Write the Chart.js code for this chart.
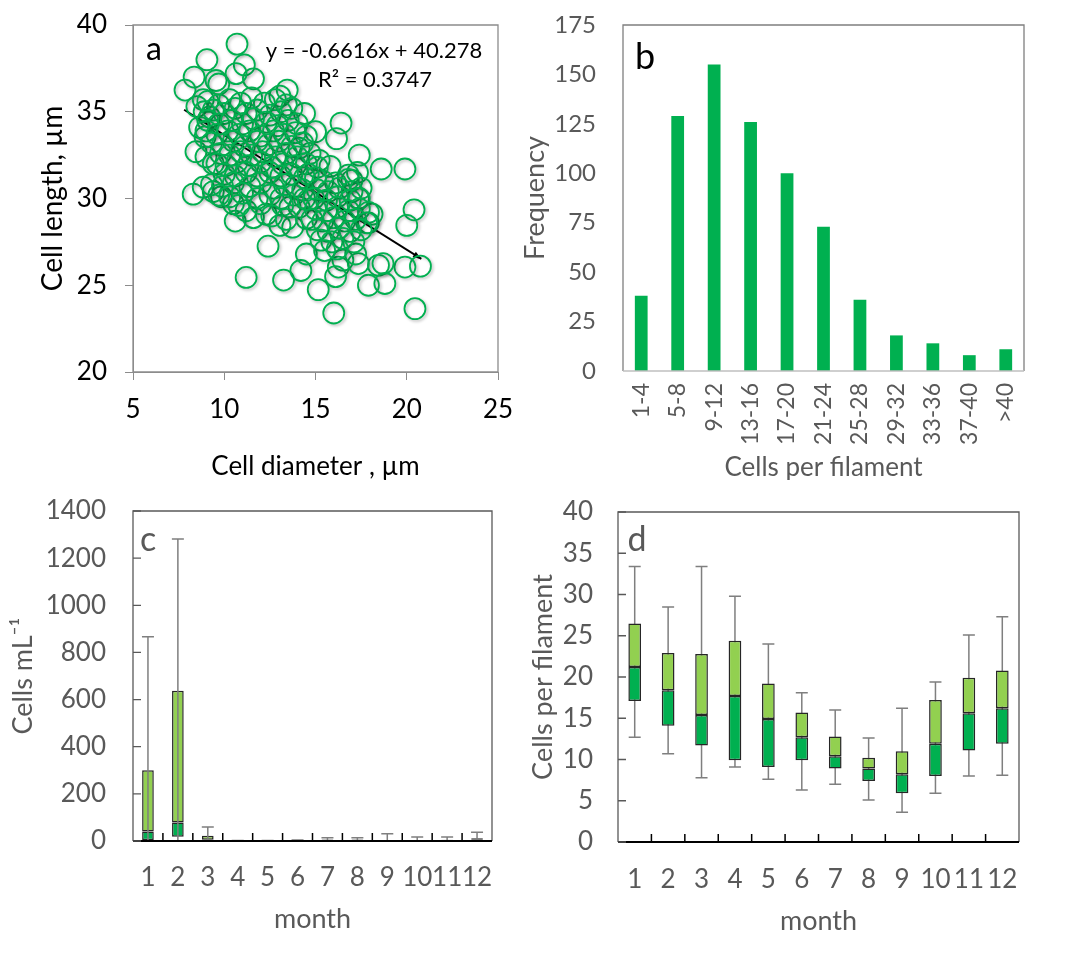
<!DOCTYPE html>
<html>
<head>
<meta charset="utf-8">
<script src="https://cdn.jsdelivr.net/npm/chart.js@4.4.0/dist/chart.umd.min.js"></script>
<style>
  body { margin: 0; background: #fff; }
  #wrap { position: relative; width: 1075px; height: 955px; }
  canvas { position: absolute; }
</style>
</head>
<body>
<div id="wrap">
  <canvas id="chartA" width="520" height="480" style="left:0;top:0"></canvas>
  <canvas id="chartB" width="555" height="480" style="left:520px;top:0"></canvas>
  <canvas id="chartC" width="520" height="475" style="left:0;top:480px"></canvas>
  <canvas id="chartD" width="555" height="475" style="left:520px;top:480px"></canvas>
</div>
<script>
// ---- panel a: cell diameter vs cell length ----
const cellDiameter = [
  10.7, 9.05, 11.1, 8.35, 11.6, 9.55, 7.85, 9.7, 10.65, 13.45, 13.05, 14.4, 15.0, 16.4, 16.15, 17.4,
  18.6, 19.9, 17.3, 20.4, 20.0, 8.3, 8.45, 9.0, 12.4, 11.2, 13.25, 15.15, 14.2, 14.5, 16.0, 20.45,
  20.75, 19.9, 18.45, 18.7, 17.9, 18.8, 16.25, 16.5, 17.35, 17.2, 16.1, 17.9, 18.1, 17.35, 17.0,
  16.8, 15.8, 15.2, 14.7, 14.1, 8.5, 8.85, 9.2, 8.65, 8.95, 9.4, 8.85, 9.4, 9.85, 10.5, 10.6,
  11.2, 11.6, 12.3, 13.05, 13.75, 13.6, 14.1, 14.5,
  9.1, 9.7, 10.3, 10.9, 11.5, 12.2, 12.8, 13.4,
  8.9, 9.4, 10.0, 10.6, 11.2, 11.8, 12.5, 13.1, 13.7,
  9.1, 9.7, 10.4, 11.0, 11.6, 12.3, 12.9, 13.5, 14.0,
  9.0, 9.6, 10.2, 10.8, 11.4, 12.0, 12.7, 13.3, 13.9, 14.5,
  9.3, 9.9, 10.5, 11.1, 11.8, 12.4, 13.0, 13.7, 14.3,
  9.8, 10.3, 10.9, 11.5, 12.1, 12.8, 13.4, 14.0,
  9.6, 10.1, 10.7, 11.3, 12.0, 12.6, 13.2, 13.9, 14.5, 15.1,
  10.0, 10.6, 11.2, 11.8, 12.5, 13.1, 13.7, 14.4,
  9.3, 9.9, 10.5, 11.4, 12.0, 12.7, 13.3, 13.9,
  9.7, 10.3, 11.0, 11.8, 12.5, 13.1, 13.8, 14.4,
  10.8, 12.0, 13.2, 12.6, 13.4,
  15.4, 16.1, 16.8, 14.6, 15.0, 14.3, 14.6,
  15.1, 15.7, 16.3, 17.0, 17.5,
  14.9, 15.6, 16.2, 16.9, 17.4,
  15.0, 15.6, 16.2, 16.8, 17.4, 17.9,
  14.8, 15.4, 16.0, 16.6, 17.2, 17.8,
  15.1, 15.7, 16.3, 16.9, 17.5,
  15.3, 15.9, 16.5, 17.1, 15.5, 16.2
];
const cellLength = [
  38.9, 38.0, 37.7, 37.0, 36.9, 36.8, 36.25, 36.6, 37.2, 36.25, 35.9, 34.9, 33.85, 34.35, 33.45, 32.5,
  31.7, 31.7, 31.5, 29.35, 28.45, 30.25, 32.7, 32.4, 27.25, 25.45, 25.3, 24.75, 25.85, 26.8, 23.4, 23.65,
  26.1, 26.05, 26.15, 26.25, 25.0, 25.1, 26.05, 26.45, 26.25, 26.8, 25.5, 28.6, 29.1, 30.0, 31.05,
  31.35, 31.85, 32.2, 32.6, 32.9, 35.3, 35.7, 34.7, 34.1, 33.55, 32.0, 30.65, 30.4, 30.1, 29.7, 28.7,
  29.3, 28.9, 29.1, 28.45, 28.35, 29.5, 29.5, 28.85,
  35.6, 35.4, 35.7, 35.5, 35.8, 35.5, 35.7, 35.4,
  35.0, 35.1, 34.9, 35.2, 34.9, 35.1, 34.8, 35.0, 35.2,
  34.5, 34.3, 34.5, 34.3, 34.6, 34.4, 34.2, 34.5, 34.3,
  33.9, 33.7, 33.9, 33.7, 33.9, 33.6, 33.9, 33.7, 33.8, 33.6,
  33.2, 33.1, 33.3, 33.0, 33.3, 33.1, 33.3, 33.0, 33.2,
  32.6, 32.5, 32.7, 32.5, 32.7, 32.4, 32.6, 32.4,
  32.0, 31.9, 32.1, 31.9, 32.1, 31.8, 32.0, 31.9, 32.0, 31.8,
  31.4, 31.3, 31.5, 31.3, 31.5, 31.3, 31.4, 31.2,
  30.8, 30.7, 30.9, 30.7, 30.9, 30.6, 30.8, 30.7,
  30.2, 30.1, 30.3, 30.0, 30.2, 30.0, 30.2, 30.0,
  29.6, 29.7, 29.6, 29.0, 28.8,
  31.0, 30.9, 31.1, 31.4, 31.2, 30.5, 29.9,
  30.5, 30.4, 30.6, 30.4, 30.6,
  30.0, 29.9, 30.1, 29.9, 30.0,
  29.4, 29.3, 29.5, 29.3, 29.4, 29.2,
  28.8, 28.7, 28.9, 28.7, 28.8, 28.6,
  28.2, 28.1, 28.3, 28.1, 28.2,
  27.6, 27.5, 27.7, 27.5, 27.0, 27.1
];
// linear trend y = -0.6616x + 40.278, drawn between the data extremes
const trendX = [7.8, 20.8];
const trendY = [35.12, 26.52];

// ---- panel b: frequency of cells per filament ----
const filamentBins = ['1-4', '5-8', '9-12', '13-16', '17-20', '21-24', '25-28', '29-32', '33-36', '37-40', '>40'];
const filamentFreq = [38, 129, 155, 126, 100, 73, 36, 18, 14, 8, 11];

// ---- panels c and d: monthly box plots ----
const months = ['1', '2', '3', '4', '5', '6', '7', '8', '9', '10', '11', '12'];

const densMin = [0, 0, 0, 0, 0, 0, 0, 0, 0, 0, 0, 0];
const densQ1  = [3, 18, 2, 0, 0, 0, 1, 1, 0, 0, 1, 2];
const densMed = [40, 79, 5, 0.5, 0.5, 1, 3, 3, 1, 2, 2, 5];
const densQ3  = [300, 637, 22, 1, 1, 2, 6, 6, 3, 4, 5, 12];
const densMax = [866, 1281, 59, 2, 2, 4, 14, 14, 31, 17, 17, 37];

const cpfMin = [12.7, 10.7, 7.8, 9.1, 7.6, 6.3, 7.0, 5.1, 3.6, 5.9, 8.0, 8.1];
const cpfQ1  = [17.1, 14.1, 11.7, 9.9, 9.1, 9.9, 8.9, 7.4, 5.9, 8.0, 11.1, 11.9];
const cpfMed = [21.2, 18.4, 15.4, 17.7, 14.9, 12.7, 10.4, 8.9, 8.2, 11.9, 15.6, 16.2];
const cpfQ3  = [26.5, 22.9, 22.8, 24.4, 19.2, 15.7, 12.8, 10.2, 11.0, 17.2, 19.9, 20.8];
const cpfMax = [33.4, 28.5, 33.4, 29.8, 24.0, 18.1, 16.0, 12.6, 16.2, 19.4, 25.1, 27.3];

const FONT = 'Lato';
const GREY = '#595959';
const DARK_GREEN = '#00b050';
const LIGHT_GREEN = '#92d050';

Chart.defaults.font.family = FONT;
Chart.defaults.animation = false;
Chart.defaults.plugins.legend.display = false;
Chart.defaults.plugins.tooltip.enabled = false;

// keep the plot areas at fixed spots (no label overhang padding)
function fixSize(size) {
  return scale => {
    if (scale.isHorizontal()) scale.height = size;
    else scale.width = size;
    scale.paddingTop = 0;
    scale.paddingBottom = 0;
    scale.paddingLeft = 0;
    scale.paddingRight = 0;
  };
}

const plain = v => String(v);

function framePlugin(color, bottomColor, bottomWidth) {
  return {
    id: 'frame',
    afterDraw(chart) {
      const { ctx, chartArea: a } = chart;
      ctx.save();
      ctx.strokeStyle = color;
      ctx.lineWidth = 1.3;
      ctx.beginPath();
      ctx.moveTo(a.left, a.bottom);
      ctx.lineTo(a.left, a.top);
      ctx.lineTo(a.right, a.top);
      ctx.lineTo(a.right, a.bottom);
      ctx.stroke();
      ctx.strokeStyle = bottomColor;
      ctx.lineWidth = bottomWidth;
      ctx.beginPath();
      ctx.moveTo(a.left, a.bottom);
      ctx.lineTo(a.right, a.bottom);
      ctx.stroke();
      ctx.restore();
    }
  };
}

function textPlugin(items) {
  return {
    id: 'texts',
    afterDraw(chart) {
      const ctx = chart.ctx;
      ctx.save();
      items.forEach(t => {
        ctx.font = t.font;
        ctx.fillStyle = t.color;
        ctx.textAlign = 'center';
        ctx.textBaseline = 'middle';
        ctx.fillText(t.text, t.x, t.y);
      });
      ctx.restore();
    }
  };
}

// soft shadow under the open circles, small arrow head on the trend line
const scatterLook = {
  id: 'scatterLook',
  beforeDatasetDraw(chart, args) {
    if (args.index !== 0) return;
    const ctx = chart.ctx;
    ctx.save();
    ctx.shadowColor = 'rgba(0,0,0,0.28)';
    ctx.shadowBlur = 3;
    ctx.shadowOffsetX = 1.5;
    ctx.shadowOffsetY = 1.5;
  },
  afterDatasetDraw(chart, args) {
    const ctx = chart.ctx;
    if (args.index === 0) { ctx.restore(); return; }
    const pts = chart.getDatasetMeta(1).data;
    const p0 = pts[0], p1 = pts[pts.length - 1];
    const ang = Math.atan2(p1.y - p0.y, p1.x - p0.x);
    ctx.save();
    ctx.fillStyle = '#000';
    ctx.beginPath();
    ctx.moveTo(p1.x, p1.y);
    ctx.lineTo(p1.x - 9 * Math.cos(ang - 0.35), p1.y - 9 * Math.sin(ang - 0.35));
    ctx.lineTo(p1.x - 9 * Math.cos(ang + 0.35), p1.y - 9 * Math.sin(ang + 0.35));
    ctx.closePath();
    ctx.fill();
    ctx.restore();
  }
};

// ---- a ----
new Chart(document.getElementById('chartA'), {
  type: 'scatter',
  data: {
    datasets: [
      {
        data: cellDiameter.map((d, i) => ({ x: d, y: cellLength[i] })),
        pointRadius: 10.5,
        pointBorderWidth: 1.8,
        pointBorderColor: DARK_GREEN,
        pointBackgroundColor: 'rgba(0,0,0,0)'
      },
      {
        type: 'line',
        data: trendX.map((d, i) => ({ x: d, y: trendY[i] })),
        borderColor: '#000',
        borderWidth: 1.8,
        pointRadius: 0,
        fill: false
      }
    ]
  },
  options: {
    responsive: false,
    layout: { padding: { top: 25, right: 22, left: 0, bottom: 0 } },
    scales: {
      x: {
        min: 5, max: 25,
        afterFit: fixSize(108),
        grid: { drawOnChartArea: false, drawTicks: true, tickLength: 8, color: '#8c8c8c' },
        border: { color: '#8c8c8c' },
        ticks: { stepSize: 5, color: '#000', font: { size: 26 }, padding: 14 },
        title: { display: true, text: 'Cell diameter , µm', color: '#000', font: { size: 26, lineHeight: 1 }, padding: { top: 0, bottom: 0 } }
      },
      y: {
        min: 20, max: 40,
        afterFit: fixSize(133),
        grid: { drawOnChartArea: false, drawTicks: true, tickLength: 8, color: '#8c8c8c' },
        border: { color: '#8c8c8c' },
        ticks: { stepSize: 5, color: '#000', font: { size: 26 }, padding: 18 },
        title: { display: true, text: 'Cell length, µm', color: '#000', font: { size: 28, lineHeight: 1 }, padding: { top: 39, bottom: 0 } }
      }
    }
  },
  plugins: [
    scatterLook,
    framePlugin('#8c8c8c', '#8c8c8c', 1.3),
    textPlugin([
      { text: 'a', x: 154, y: 50, font: '32px Lato', color: '#000' },
      { text: 'y = -0.6616x + 40.278', x: 374, y: 51, font: '22px Lato', color: '#000' },
      { text: 'R² = 0.3747', x: 375, y: 80, font: '22px Lato', color: '#000' }
    ])
  ]
});

// ---- b ----
new Chart(document.getElementById('chartB'), {
  type: 'bar',
  data: {
    labels: filamentBins,
    datasets: [{
      data: filamentFreq,
      backgroundColor: DARK_GREEN,
      barPercentage: 0.35,
      categoryPercentage: 1
    }]
  },
  options: {
    responsive: false,
    layout: { padding: { top: 25, right: 51, left: 0, bottom: 0 } },
    scales: {
      x: {
        afterFit: fixSize(109),
        grid: { display: false, drawTicks: false },
        border: { display: false },
        ticks: { color: GREY, font: { size: 23 }, padding: 12, minRotation: 90, maxRotation: 90, autoSkip: false },
        title: { display: true, text: 'Cells per filament', color: GREY, font: { size: 26, lineHeight: 1 }, padding: { top: 0, bottom: -1 } }
      },
      y: {
        min: 0, max: 175,
        afterFit: fixSize(103),
        grid: { display: false, drawTicks: false },
        border: { display: false },
        ticks: { stepSize: 25, color: GREY, font: { size: 24 }, padding: 27, callback: plain },
        title: { display: true, text: 'Frequency', color: GREY, font: { size: 27, lineHeight: 1 }, padding: { top: 2, bottom: 0 } }
      }
    }
  },
  plugins: [
    framePlugin('#7f7f7f', '#bfbfbf', 1.3),
    textPlugin([{ text: 'b', x: 125, y: 57, font: '36px Lato', color: '#000' }])
  ]
});

// ---- c, d: box plots built from floating bars ----
function boxPlugin(lo, hi, q1, q3, through) {
  return {
    id: 'whiskers',
    [through ? 'afterDatasetsDraw' : 'beforeDatasetsDraw'](chart) {
      const { ctx, scales: { x, y } } = chart;
      ctx.save();
      ctx.strokeStyle = '#7f7f7f';
      ctx.lineWidth = 1.5;
      ctx.beginPath();
      lo.forEach((v, i) => {
        const px = x.getPixelForValue(i);
        ctx.moveTo(px, y.getPixelForValue(lo[i]));
        ctx.lineTo(px, y.getPixelForValue(hi[i]));
        [lo[i], hi[i]].forEach(w => {
          const py = y.getPixelForValue(w);
          ctx.moveTo(px - 6, py);
          ctx.lineTo(px + 6, py);
        });
      });
      ctx.stroke();
      ctx.restore();
    }
  };
}

function innerTicks() {
  return {
    id: 'innerTicks',
    afterDraw(chart) {
      const { ctx, chartArea: a, scales: { x, y } } = chart;
      ctx.save();
      ctx.lineWidth = 1.3;
      ctx.strokeStyle = GREY;
      ctx.beginPath();
      y.ticks.forEach(t => {
        const py = y.getPixelForValue(t.value);
        ctx.moveTo(a.left, py);
        ctx.lineTo(a.left + 8, py);
      });
      ctx.stroke();
      ctx.strokeStyle = '#000';
      ctx.lineWidth = 1.5;
      ctx.beginPath();
      for (let i = 1; i < x.ticks.length; i++) {
        const px = x.getPixelForValue(i - 0.5);
        ctx.moveTo(px, a.bottom);
        ctx.lineTo(px, a.bottom - 8);
      }
      ctx.stroke();
      ctx.restore();
    }
  };
}

function boxChart(id, opts) {
  const boxStyle = {
    borderColor: '#262626',
    borderWidth: 1.5,
    borderSkipped: false,
    grouped: false,
    barPercentage: opts.barPct,
    categoryPercentage: 1
  };
  return new Chart(document.getElementById(id), {
    type: 'bar',
    data: {
      labels: months,
      datasets: [
        Object.assign({ data: opts.q1.map((v, i) => [v, opts.med[i]]), backgroundColor: DARK_GREEN }, boxStyle),
        Object.assign({ data: opts.med.map((v, i) => [v, opts.q3[i]]), backgroundColor: LIGHT_GREEN }, boxStyle)
      ]
    },
    options: {
      responsive: false,
      layout: { padding: opts.padding },
      scales: {
        x: {
          afterFit: fixSize(opts.xSize),
          grid: { display: false, drawTicks: false },
          border: { display: false },
          ticks: { color: GREY, font: { size: 26 }, padding: opts.xPad, autoSkip: false, maxRotation: 0, minRotation: 0 },
          title: { display: true, text: 'month', color: GREY, font: { size: 27, lineHeight: 1 }, padding: { top: 0, bottom: opts.xTitlePad } }
        },
        y: {
          min: 0, max: opts.max,
          afterFit: fixSize(opts.ySize),
          grid: { display: false, drawTicks: false },
          border: { display: false },
          ticks: { stepSize: opts.step, color: GREY, font: { size: 26 }, padding: opts.yPad, callback: plain },
          title: { display: true, text: opts.yTitle, color: GREY, font: { size: 27, lineHeight: 1 }, padding: { top: 10, bottom: 0 } }
        }
      }
    },
    plugins: [
      boxPlugin(opts.lo, opts.hi, opts.q1, opts.q3, opts.through),
      framePlugin(GREY, '#000', 2),
      innerTicks(),
      textPlugin([{ text: opts.letter, x: opts.letterX, y: 60, font: '34px Lato', color: GREY }])
    ]
  });
}

boxChart('chartC', {
  lo: densMin, q1: densQ1, med: densMed, q3: densQ3, hi: densMax,
  through: true, barPct: 0.39, max: 1400, step: 200, yTitle: 'Cells mL⁻¹',
  padding: { top: 31, right: 28, left: 0, bottom: 0 },
  xSize: 114, ySize: 133, xPad: 21, yPad: 27, xTitlePad: 22,
  letter: 'c', letterX: 148
});

boxChart('chartD', {
  lo: cpfMin, q1: cpfQ1, med: cpfMed, q3: cpfQ3, hi: cpfMax,
  through: false, barPct: 0.38, max: 40, step: 5, yTitle: 'Cells per filament',
  padding: { top: 32, right: 56, left: 0, bottom: 0 },
  xSize: 113, ySize: 98, xPad: 22, yPad: 25, xTitlePad: 20,
  letter: 'd', letterX: 117
});
</script>
</body>
</html>
